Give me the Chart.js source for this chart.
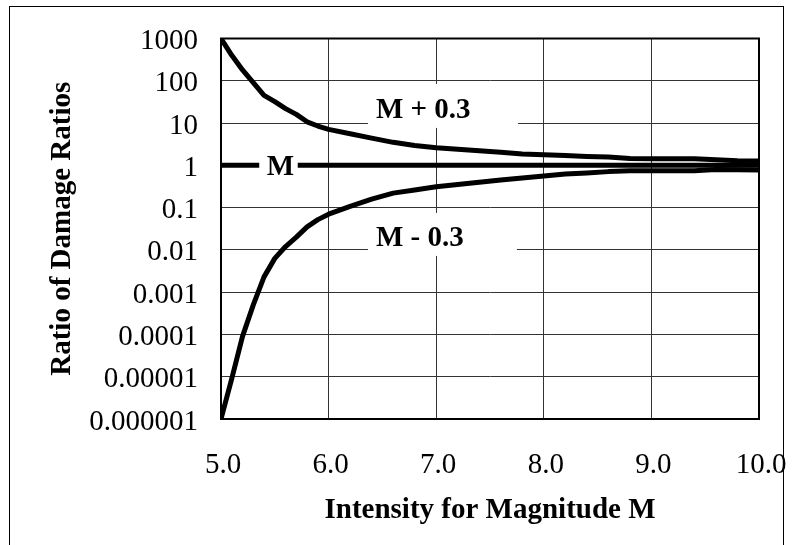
<!DOCTYPE html>
<html><head><meta charset="utf-8">
<script src="https://cdn.jsdelivr.net/npm/chart.js@4/dist/chart.umd.min.js"></script>
<style>html,body{margin:0;padding:0;background:#fff;overflow:hidden}#wrap{width:792px;height:545px;position:relative}</style>
</head><body><div id="wrap"><canvas id="c" width="792" height="545"></canvas></div>
<script>
// ---- data ----
const xValues = [5.0,5.1,5.2,5.3,5.4,5.5,5.6,5.7,5.8,5.9,6.0,6.2,6.4,6.6,6.8,7.0,7.2,7.4,7.6,7.8,8.0,8.2,8.4,8.6,8.8,9.0,9.2,9.4,9.6,9.8,10.0];
const upperValues = [1000,400,180,90,45,32,22,16,10.7,8.5,7.1,5.6,4.4,3.5,2.95,2.6,2.4,2.2,2.05,1.86,1.78,1.7,1.62,1.58,1.46,1.44,1.44,1.44,1.36,1.28,1.26];
const middleValues = [1,1,1,1,1,1,1,1,1,1,1,1,1,1,1,1,1,1,1,1,1,1,1,1,1,1,1,1,1,1,1];
const lowerValues = [1e-6,9e-6,9e-5,5e-4,2.3e-3,6.3e-3,0.012,0.02,0.035,0.052,0.07,0.107,0.158,0.22,0.26,0.31,0.35,0.4,0.45,0.5,0.56,0.62,0.66,0.71,0.74,0.74,0.74,0.74,0.8,0.79,0.78];
const seriesLabels = ["M + 0.3","M","M - 0.3"];
const xTickValues = [5,6,7,8,9,10];
const xTickLabels = ["5.0","6.0","7.0","8.0","9.0","10.0"];
const yTickValues = [1e-6,1e-5,1e-4,1e-3,1e-2,1e-1,1,10,100,1000];
const yTickLabels = ["0.000001","0.00001","0.0001","0.001","0.01","0.1","1","10","100","1000"];
const xTitle = "Intensity for Magnitude M";
const yTitle = "Ratio of Damage Ratios";

// ---- annotation placement (data-space anchors) ----
const annotations = [
  {text: seriesLabels[0], x: 6.44, y: 22.8, box: [-8, 142, -24, 20]},
  {text: seriesLabels[1], x: 5.425, y: 1, box: [-7.5, 31, -14, 14]},
  {text: seriesLabels[2], x: 6.44, y: 0.0214, box: [-8, 141, -23, 20]}
];

const FONT = "'Liberation Serif','Times New Roman',serif";
Chart.defaults.font.family = FONT;
Chart.defaults.color = '#000';

const pts = arr => xValues.map((x, i) => ({x: x, y: arr[i]}));
const lineStyle = {borderColor: '#000', borderWidth: 5, pointRadius: 0, tension: 0, fill: false, borderJoinStyle: 'round'};

const framePlugin = {
  id: 'frame',
  beforeDraw(chart) {
    const ctx = chart.ctx;
    ctx.save();
    ctx.fillStyle = '#fff';
    ctx.fillRect(0, 0, chart.width, chart.height);
    ctx.strokeStyle = '#000';
    ctx.lineWidth = 1;
    ctx.strokeRect(9.5, 6.5, 774, 620);
    ctx.restore();
  },
  beforeDatasetsDraw(chart) {
    const a = chart.chartArea, ctx = chart.ctx;
    ctx.save();
    ctx.strokeStyle = '#000';
    ctx.lineWidth = 2;
    ctx.strokeRect(a.left, a.top, a.right - a.left, a.bottom - a.top);
    ctx.restore();
  },
  afterDatasetsDraw(chart) {
    const ctx = chart.ctx, xs = chart.scales.x, ys = chart.scales.y;
    ctx.save();
    ctx.font = 'bold 29px ' + FONT;
    ctx.textAlign = 'left';
    ctx.textBaseline = 'alphabetic';
    annotations.forEach(an => {
      const px = xs.getPixelForValue(an.x), py = ys.getPixelForValue(an.y);
      ctx.fillStyle = '#fff';
      ctx.fillRect(px + an.box[0], py + an.box[2], an.box[1] - an.box[0], an.box[3] - an.box[2]);
      ctx.fillStyle = '#000';
      ctx.fillText(an.text, px, py + 9.6);
    });
    ctx.restore();
  }
};

new Chart(document.getElementById('c'), {
  type: 'line',
  data: {
    datasets: [
      Object.assign({label: seriesLabels[0], data: pts(upperValues)}, lineStyle),
      Object.assign({label: seriesLabels[1], data: pts(middleValues)}, lineStyle),
      Object.assign({label: seriesLabels[2], data: pts(lowerValues)}, lineStyle)
    ]
  },
  options: {
    responsive: false,
    animation: false,
    devicePixelRatio: 1,
    layout: {padding: {top: 38.5, right: 33, left: 0, bottom: 0}},
    plugins: {legend: {display: false}, tooltip: {enabled: false}},
    scales: {
      x: {
        type: 'linear', min: 5, max: 10,
        afterBuildTicks: s => { s.ticks = xTickValues.map(v => ({value: v})); },
        afterFit: s => { s.height = 126; },
        ticks: {
          autoSkip: false, padding: 3, labelOffset: 2,
          font: {size: 29},
          callback: v => { const i = xTickValues.indexOf(v); return i >= 0 ? xTickLabels[i] : ''; }
        },
        grid: {color: '#333', lineWidth: 1, drawTicks: true, tickLength: 26, tickColor: 'rgba(0,0,0,0)'},
        border: {display: true, color: '#000', width: 2},
        title: {display: true, text: xTitle, font: {size: 29, weight: 'bold'}, padding: {top: 0, bottom: 16.6}}
      },
      y: {
        type: 'logarithmic', min: 1e-6, max: 1000,
        afterBuildTicks: s => { s.ticks = yTickValues.map(v => ({value: v})); },
        afterFit: s => { s.width = 221; },
        ticks: {
          autoSkip: false, padding: 3, labelOffset: 3,
          font: {size: 29},
          callback: v => {
            const i = yTickValues.findIndex(t => Math.abs(Math.log10(t) - Math.log10(v)) < 1e-6);
            return i >= 0 ? yTickLabels[i] : '';
          }
        },
        grid: {color: '#333', lineWidth: 1, drawTicks: true, tickLength: 20, tickColor: 'rgba(0,0,0,0)'},
        border: {display: true, color: '#000', width: 2},
        title: {display: true, text: yTitle, font: {size: 29, weight: 'bold'}, padding: {top: 45.6, bottom: 0}}
      }
    }
  },
  plugins: [framePlugin]
});
</script>
</body></html>
